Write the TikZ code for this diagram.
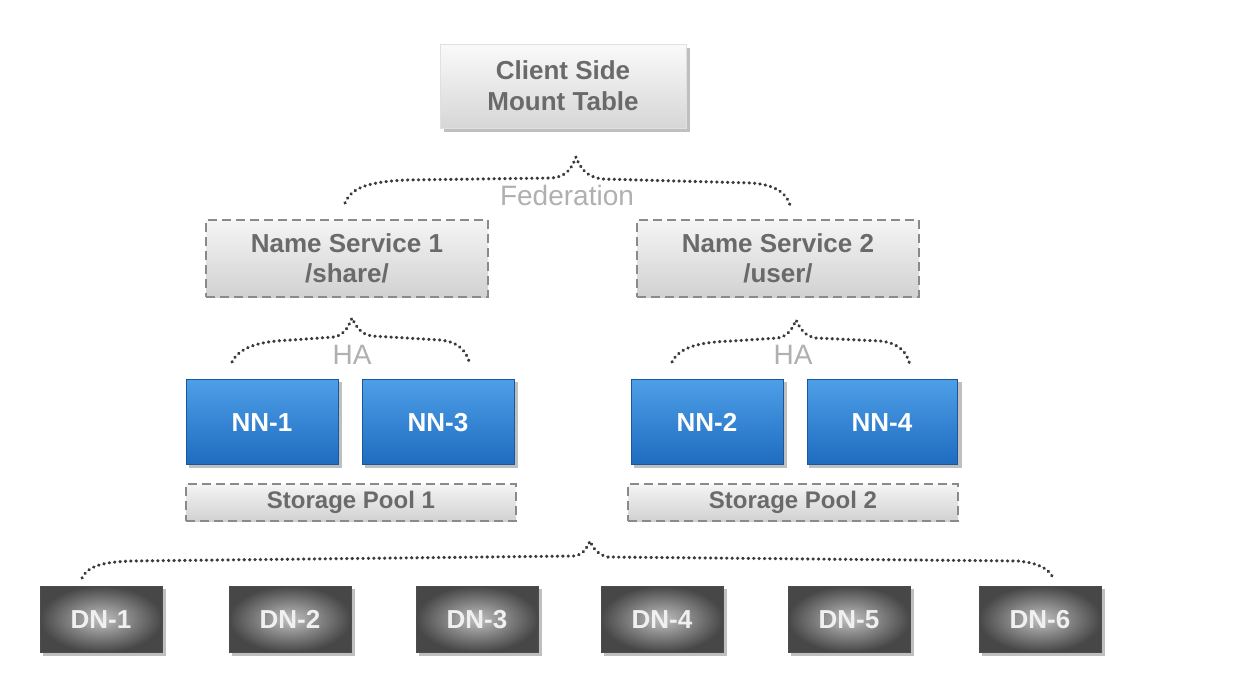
\documentclass[tikz,border=0pt]{standalone}
\usepackage{fontspec}
\setmainfont{Liberation Sans}
\usetikzlibrary{shadings}
\definecolor{boxtext}{HTML}{6A6A6A}
\definecolor{labeltext}{HTML}{B0B0B0}
\definecolor{dashgray}{HTML}{8A8A8A}
\definecolor{bluetop}{HTML}{4E9FE8}
\definecolor{bluebot}{HTML}{1F6CC0}
\definecolor{dotgray}{HTML}{3A3A3A}
\tikzset{
  lightbox/.style={rectangle, inner sep=0pt, top color=white!96!black, bottom color=white!82!black,
    draw=dashgray, line width=2pt, dash pattern=on 9pt off 5pt,
    text=boxtext, font=\fontsize{26}{32}\selectfont\bfseries, align=center},
  clientbox/.style={rectangle, inner sep=0pt, top color=white!98!black, bottom color=white!84!black,
    draw=white!88!black, line width=0.6pt,
    text=boxtext, font=\fontsize{26}{31}\selectfont\bfseries, align=center},
  nnbox/.style={rectangle, inner sep=0pt, minimum width=152pt, minimum height=85pt,
    text height=19pt, text depth=0pt,
    top color=bluetop, bottom color=bluebot, draw=bluebot!80!black, line width=0.6pt,
    text=white, font=\fontsize{26}{30}\selectfont\bfseries},
  dnbox/.style={rectangle, inner sep=0pt, minimum width=122pt, minimum height=66pt,
    text height=19pt, text depth=0pt,
    inner color=black!25, outer color=black!72, draw=black!70, line width=0.6pt,
    text=white!94!black, font=\fontsize{26}{30}\selectfont\bfseries},
  poolbox/.style={lightbox, minimum width=330pt, minimum height=37pt, font=\fontsize{24}{28}\selectfont\bfseries},
  grouplabel/.style={text=labeltext, font=\fontsize{28}{30}\selectfont, inner sep=0pt},
  dotline/.style={draw=dotgray, line width=3.2pt, line cap=round, dash pattern=on 0.4pt off 5pt},
  shadowbox/.style={fill=black!25, draw=none}
}
\begin{document}
\begin{tikzpicture}[x=1pt,y=-1pt]
\useasboundingbox (0,0) rectangle (1254,675);
\fill[white] (0,0) rectangle (1254,675);

% shadows
\fill[shadowbox] (444,48) rectangle (690,132);
\foreach \cx in {262,438,707,882}{
  \fill[shadowbox] (\cx-76+3,382) rectangle (\cx+76+4,468);
}
\foreach \cx in {101,290,477,662,849,1040}{
  \fill[shadowbox] (\cx-61+3,589) rectangle (\cx+61+4,656);
}

% top
\node[clientbox, minimum width=246pt, minimum height=84pt] (client) at (563,86) {Client Side\\Mount Table};

% name services
\node[lightbox, minimum width=282pt, minimum height=77pt] (ns1) at (347,258.5) {Name Service 1\\[-2pt]/share/};
\node[lightbox, minimum width=282pt, minimum height=77pt] (ns2) at (778,258.5) {Name Service 2\\[-2pt]/user/};

% name nodes
\node[nnbox] (nn1) at (262,421.5) {NN-1};
\node[nnbox] (nn3) at (438,421.5) {NN-3};
\node[nnbox] (nn2) at (707,421.5) {NN-2};
\node[nnbox, minimum width=150pt] (nn4) at (882,421.5) {NN-4};

% storage pools
\node[poolbox] (sp1) at (351,502.5) {Storage Pool 1};
\node[poolbox] (sp2) at (793,502.5) {Storage Pool 2};

% data nodes
\node[dnbox] (dn1) at (101,619) {DN-1};
\node[dnbox] (dn2) at (290,619) {DN-2};
\node[dnbox] (dn3) at (477,619) {DN-3};
\node[dnbox] (dn4) at (662,619) {DN-4};
\node[dnbox] (dn5) at (849,619) {DN-5};
\node[dnbox] (dn6) at (1040,619) {DN-6};

% labels
\node[grouplabel] (fed) at (567,195) {Federation};
\node[grouplabel] (ha1) at (352,355) {HA};
\node[grouplabel] (ha2) at (793,355) {HA};

% brace coordinates
\coordinate (fedL) at (345,203);
\coordinate (fedP) at (576,157);
\coordinate (fedR) at (790,205);
\coordinate (ha1L) at (232,362);
\coordinate (ha1P) at (352,318);
\coordinate (ha1R) at (470,365);
\coordinate (ha2L) at (672,362);
\coordinate (ha2P) at (796,320);
\coordinate (ha2R) at (910,365);
\coordinate (dnL) at (82,578);
\coordinate (dnP) at (590,541);
\coordinate (dnR) at (1053,578);

% federation brace
\draw[dotline] (fedL) .. controls (352,186) and (372,182) .. (405,180) -- (552,178)
  .. controls (566,177) and (572,168) .. (fedP)
  .. controls (580,168) and (587,177) .. (602,179) -- (752,183)
  .. controls (778,185) and (787,195) .. (fedR);

% HA braces
\draw[dotline] (ha1L) .. controls (240,346) and (262,341) .. (292,340) -- (334,337)
  .. controls (345,335) and (349,325) .. (ha1P)
  .. controls (356,326) and (360,334) .. (372,336) -- (440,340)
  .. controls (460,342) and (467,352) .. (ha1R);
\draw[dotline] (ha2L) .. controls (680,346) and (702,342) .. (732,341) -- (778,338)
  .. controls (789,336) and (793,327) .. (ha2P)
  .. controls (800,328) and (804,336) .. (816,338) -- (880,341)
  .. controls (900,343) and (907,353) .. (ha2R);

% data node brace
\draw[dotline] (dnL) .. controls (88,566) and (102,562) .. (132,561) -- (574,556)
  .. controls (583,555) and (587,548) .. (dnP)
  .. controls (593,548) and (598,555) .. (608,557) -- (1018,561)
  .. controls (1040,563) and (1050,570) .. (dnR);
\end{tikzpicture}
\end{document}
